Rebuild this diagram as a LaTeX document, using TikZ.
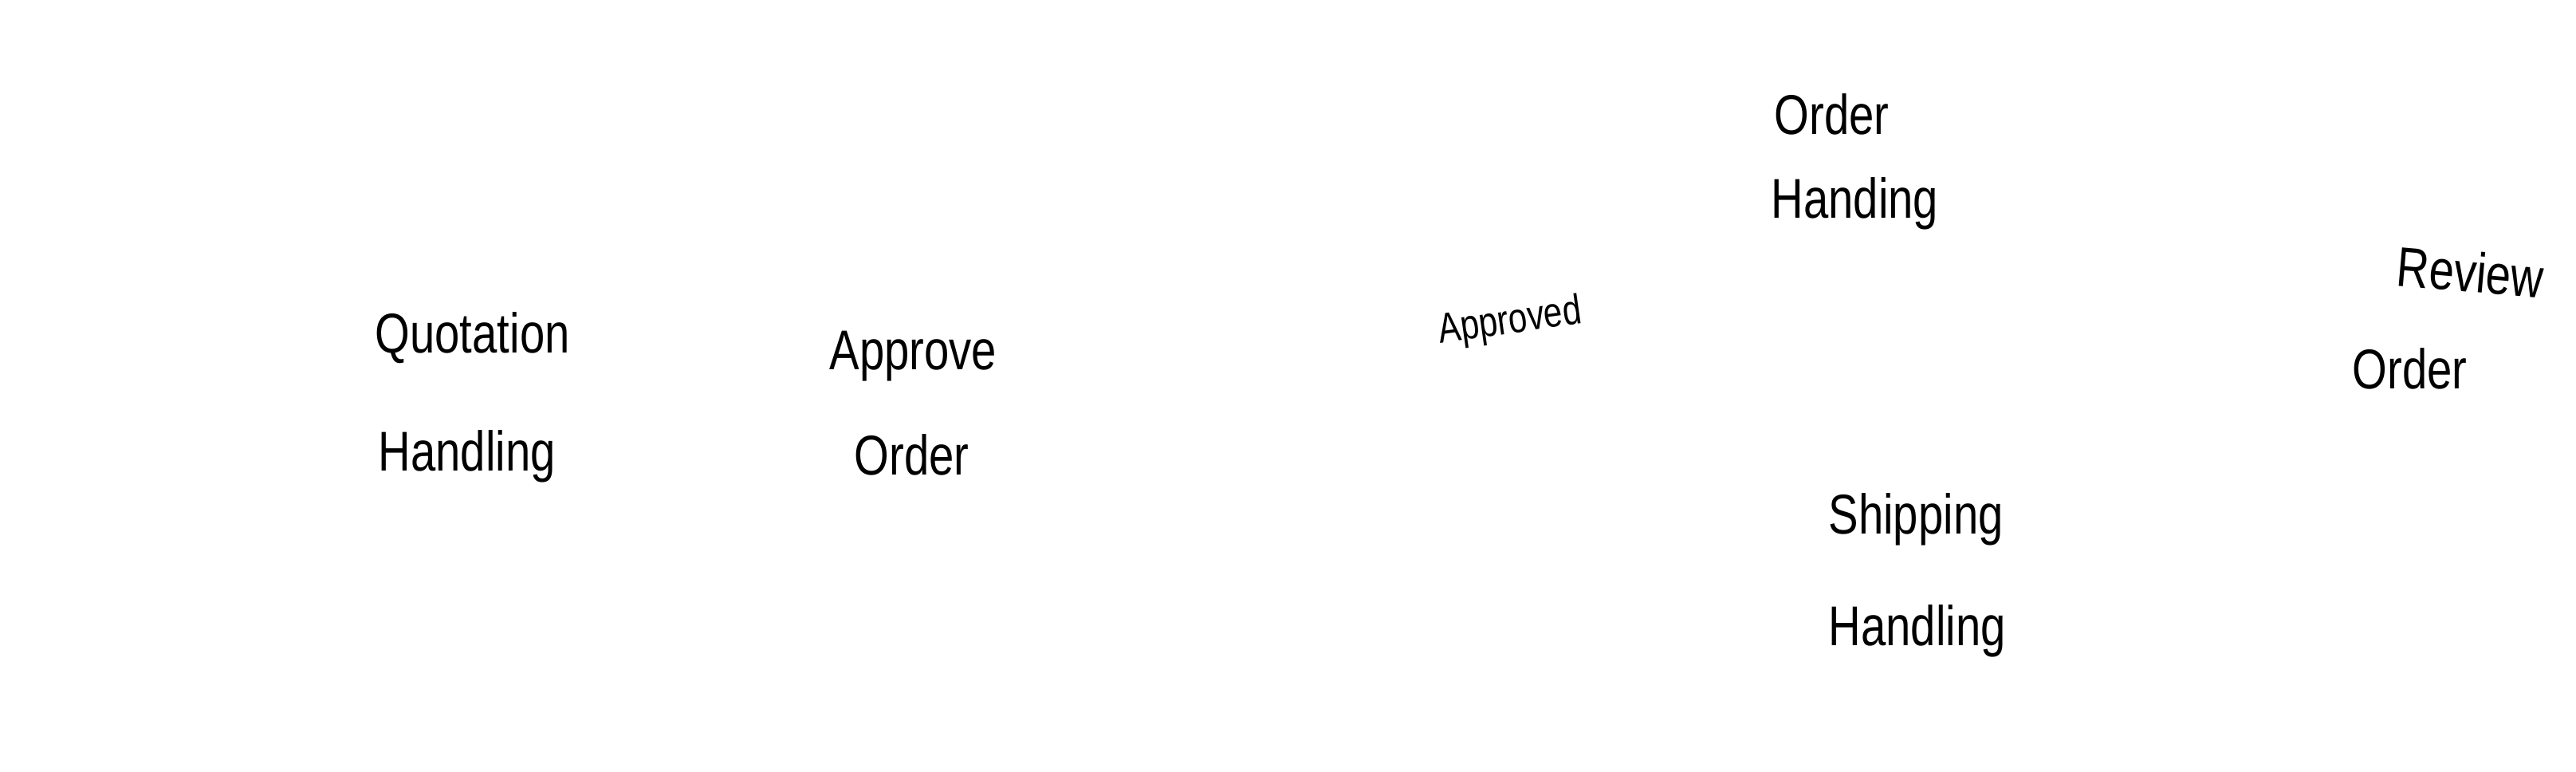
\documentclass[tikz,border=0pt]{standalone}
\usepackage{fontspec}
\usepackage{tikz}
\setmainfont{Liberation Sans}
\newcommand{\narrow}[1]{\scalebox{0.8}[1]{#1}}
\tikzset{
  word/.style={font=\fontsize{20}{24}\selectfont, inner sep=0pt, anchor=base west},
  smallword/.style={font=\fontsize{15}{18}\selectfont, inner sep=0pt, anchor=base}
}

\begin{document}
\begin{tikzpicture}
  \useasboundingbox[fill=white] (0,0) rectangle (32.31,9.68);
  \node[word] (quotation) at (4.70,5.25) {\narrow{Quotation}};
  \node[word] (quothandling) at (4.74,3.77) {\narrow{Handling}};
  \node[word] (approve) at (10.40,5.04) {\narrow{Approve}};
  \node[word] (approveorder) at (10.71,3.72) {\narrow{Order}};
  \node[smallword, rotate=8] (approved) at (18.96,5.50) {\narrow{Approved}};
  \node[word] (order) at (22.25,7.99) {\narrow{Order}};
  \node[word] (handing) at (22.21,6.94) {\narrow{Handing}};
  \node[word, rotate=-5] (review) at (30.04,6.10) {\narrow{Review}};
  \node[word] (revieworder) at (29.50,4.80) {\narrow{Order}};
  \node[word] (shipping) at (22.93,2.98) {\narrow{Shipping}};
  \node[word] (shiphandling) at (22.93,1.58) {\narrow{Handling}};
\end{tikzpicture}
\end{document}
